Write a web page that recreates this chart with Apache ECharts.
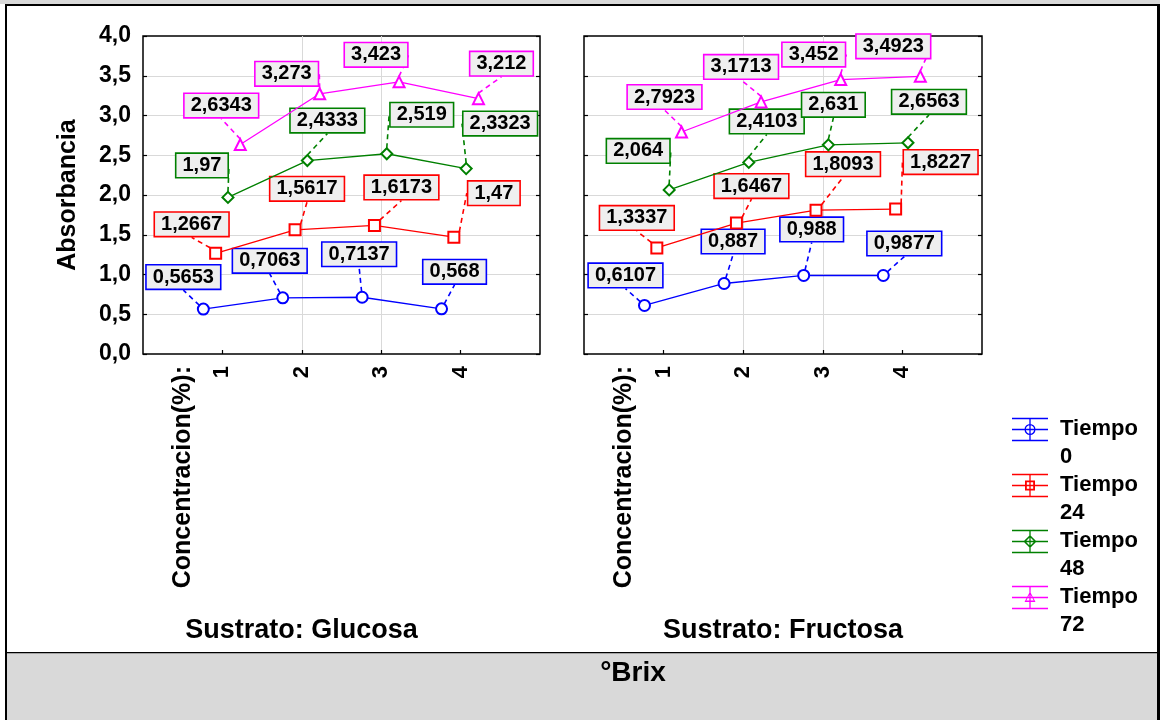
<!DOCTYPE html>
<html>
<head>
<meta charset="utf-8">
<script src="https://cdn.jsdelivr.net/npm/echarts@6/dist/echarts.min.js"></script>
<style>
  html, body { margin: 0; padding: 0; background: #ffffff; }
  #chart { width: 1160px; height: 720px; }
</style>
</head>
<body>
<div id="chart"></div>
<script>
// Categories and series
const concentraciones = [1, 2, 3, 4];
const tiempos = ['Tiempo 0', 'Tiempo 24', 'Tiempo 48', 'Tiempo 72'];
const sustratos = ['Sustrato: Glucosa', 'Sustrato: Fructosa'];
const yTicks = [0, 0.5, 1, 1.5, 2, 2.5, 3, 3.5, 4];

// Absorbancia, Sustrato: Glucosa
const glucosaT0  = [0.5653, 0.7063, 0.7137, 0.568];
const glucosaT24 = [1.2667, 1.5617, 1.6173, 1.47];
const glucosaT48 = [1.97, 2.4333, 2.519, 2.3323];
const glucosaT72 = [2.6343, 3.273, 3.423, 3.212];

// Absorbancia, Sustrato: Fructosa
const fructosaT0  = [0.6107, 0.887, 0.988, 0.9877];
const fructosaT24 = [1.3337, 1.6467, 1.8093, 1.8227];
const fructosaT48 = [2.064, 2.4103, 2.631, 2.6563];
const fructosaT72 = [2.7923, 3.1713, 3.452, 3.4923];

const valores = [
  [glucosaT0, glucosaT24, glucosaT48, glucosaT72],
  [fructosaT0, fructosaT24, fructosaT48, fructosaT72]
];

// Styling / layout
const colors = ['#0000ff', '#ff0000', '#008000', '#ff00ff'];
const symbols = ['emptyCircle', 'emptyRect', 'emptyDiamond', 'emptyTriangle'];
const dodge = [-0.24, -0.085, 0.07, 0.225];   // horizontal shift of each Tiempo within a category
// label box offsets (px) from each point, per panel, per Tiempo
const labelShift = [
  [
    [[-20, -32], [-13, -37], [-3, -43], [13, -37]],
    [[-24, -29], [12, -41], [27, -38], [40, -44]],
    [[-26, -32], [20, -40], [35, -39], [34, -45]],
    [[-19, -39], [-33, -20], [-23, -27], [23, -35]]
  ],
  [
    [[-19, -30], [9, -42], [8, -46], [21, -32]],
    [[-20, -30], [15, -37], [27, -46], [45, -47]],
    [[-31, -39], [18, -41], [5, -40], [21, -41]],
    [[-17, -35], [-20, -35], [-27, -25], [-27, -30]]
  ]
];

const FONT = "'Liberation Sans', Arial, Helvetica, sans-serif";
const comma = v => String(v).replace('.', ',');

// Legend icon: three horizontal bars, a vertical stem and a hollow marker
function rectPath(x, y, w, h) {
  return `M${x} ${y}L${x + w} ${y}L${x + w} ${y + h}L${x} ${y + h}Z`;
}
function polyPath(pts) {
  return 'M' + pts.map(p => p[0].toFixed(2) + ' ' + p[1].toFixed(2)).join('L') + 'Z';
}
function markerPath(kind, cx, cy, r, t) {
  if (kind === 0) {
    const ri = r - t;
    return `M${cx + r} ${cy}A${r} ${r} 0 1 1 ${cx - r} ${cy}A${r} ${r} 0 1 1 ${cx + r} ${cy}Z` +
           `M${cx + ri} ${cy}A${ri} ${ri} 0 1 0 ${cx - ri} ${cy}A${ri} ${ri} 0 1 0 ${cx + ri} ${cy}Z`;
  }
  let unit;
  if (kind === 1) unit = [[-1, -1], [1, -1], [1, 1], [-1, 1]];
  else if (kind === 2) unit = [[0, -1.2], [1.2, 0], [0, 1.2], [-1.2, 0]];
  else unit = [[0, -1.1], [1, 0.8], [-1, 0.8]];
  const outer = unit.map(p => [cx + p[0] * r, cy + p[1] * r]);
  const k = (r - t * 1.4) / r;
  const inner = unit.map(p => [cx + p[0] * r * k, cy + p[1] * r * k]).reverse();
  return polyPath(outer) + polyPath(inner);
}
function legendIcon(kind) {
  const w = 36, cx = 18, th = 1.3;
  let d = 'M0 0';
  [3.5, 14.5, 25.5].forEach(y => { d += rectPath(0, y - th / 2, w, th); });
  d += rectPath(cx - th / 2, 3.5, th, 22);
  d += markerPath(kind, cx, 14.5, kind === 1 ? 5 : 5.5, 1.3);
  d += 'M43 56';
  return 'path://' + d;
}

const grids = [
  { left: 143, top: 36, width: 397, height: 318 },
  { left: 584, top: 36, width: 398, height: 318 }
].map(g => Object.assign(g, { show: true, borderColor: '#000', borderWidth: 1.5, backgroundColor: 'transparent' }));

const xAxes = sustratos.map((name, p) => ({
  type: 'value', gridIndex: p, min: 0, max: 5, interval: 1,
  axisLine: { show: false },
  axisTick: { show: true, inside: true, length: 4, customValues: concentraciones, lineStyle: { color: '#000', width: 1.2 } },
  axisLabel: {
    customValues: [0.5].concat(concentraciones),
    rotate: 90, margin: 12,
    formatter: v => (v === 0.5 ? '{c|Concentracion(%):}' : String(v)),
    fontFamily: FONT, fontSize: 22, fontWeight: 'bold', color: '#000',
    rich: { c: { fontFamily: FONT, fontSize: 25, fontWeight: 'bold', color: '#000' } }
  },
  splitLine: { show: true, showMinLine: false, showMaxLine: false, lineStyle: { color: '#d9d9d9', width: 1 } },
  name: name, nameLocation: 'middle', nameGap: 263,
  nameTextStyle: {
    fontFamily: FONT, fontSize: 27, fontWeight: 'bold', color: '#000',
    padding: p === 0 ? [0, 80, 0, 0] : 0
  }
}));

const yBase = {
  type: 'value', min: yTicks[0], max: yTicks[yTicks.length - 1], interval: 0.5,
  axisLine: { show: false },
  axisTick: { show: true, inside: true, length: 4, lineStyle: { color: '#000', width: 1.2 } }
};
const yAxes = [
  Object.assign({}, yBase, {
    gridIndex: 0,
    axisLabel: { formatter: v => v.toFixed(1).replace('.', ','), fontFamily: FONT, fontSize: 23, fontWeight: 'bold', color: '#000', margin: 12 },
    splitLine: { show: true, showMinLine: false, showMaxLine: false, lineStyle: { color: '#d9d9d9', width: 1 } },
    name: 'Absorbancia', nameLocation: 'middle', nameGap: 62,
    nameTextStyle: { fontFamily: FONT, fontSize: 25, fontWeight: 'bold', color: '#000' }
  }),
  Object.assign({}, yBase, {
    gridIndex: 1,
    axisLabel: { show: false },
    splitLine: { show: true, showMinLine: false, showMaxLine: false, lineStyle: { color: '#d9d9d9', width: 1 } }
  }),
  Object.assign({}, yBase, { gridIndex: 0, position: 'right', axisLabel: { show: false }, splitLine: { show: false } }),
  Object.assign({}, yBase, { gridIndex: 1, position: 'right', axisLabel: { show: false }, splitLine: { show: false } })
];

const series = [];
valores.forEach((panel, p) => {
  panel.forEach((vals, s) => {
    series.push({
      type: 'line',
      name: tiempos[s],
      xAxisIndex: p,
      yAxisIndex: p,
      data: concentraciones.map((c, i) => [c + dodge[s], vals[i]]),
      symbol: symbols[s],
      symbolSize: 11,
      color: colors[s],
      lineStyle: { color: colors[s], width: 1.3 },
      itemStyle: { color: colors[s], borderColor: colors[s], borderWidth: 1.3 },
      label: {
        show: true, position: 'inside',
        formatter: prm => comma(prm.value[1]),
        fontFamily: FONT, fontSize: 20, fontWeight: 'bold', color: '#000',
        backgroundColor: '#efefef', borderColor: colors[s], borderWidth: 1.6,
        padding: [1, 6, 1, 6], lineHeight: 21
      },
      labelLine: { show: true, lineStyle: { color: colors[s], width: 1.6, type: [5, 4] } },
      labelLayout: prm => ({ dx: labelShift[p][s][prm.dataIndex][0], dy: labelShift[p][s][prm.dataIndex][1] }),
      emphasis: { disabled: true },
      z: 3 + s
    });
  });
});

const chart = echarts.init(document.getElementById('chart'), null, { renderer: 'canvas' });
chart.setOption({
  animation: false,
  backgroundColor: '#ffffff',
  grid: grids,
  xAxis: xAxes,
  yAxis: yAxes,
  legend: {
    orient: 'vertical', left: 1012, top: 415, padding: 0,
    itemWidth: 43, itemHeight: 56, itemGap: 0,
    selectedMode: false,
    formatter: n => n.replace(' ', '\n'),
    textStyle: { fontFamily: FONT, fontSize: 22, fontWeight: 'bold', color: '#000', lineHeight: 28 },
    data: tiempos.map((n, i) => ({ name: n, icon: legendIcon(i), itemStyle: { color: colors[i], borderWidth: 0 } }))
  },
  graphic: [
    { type: 'rect', shape: { x: 0, y: 0, width: 1160, height: 4 }, style: { fill: '#d9d9d9' }, silent: true },
    { type: 'rect', shape: { x: 5, y: 4, width: 1155, height: 2 }, style: { fill: '#000' }, silent: true },
    { type: 'rect', shape: { x: 5, y: 4, width: 2, height: 716 }, style: { fill: '#000' }, silent: true },
    { type: 'rect', shape: { x: 1157, y: 4, width: 3, height: 716 }, style: { fill: '#000' }, silent: true },
    { type: 'rect', shape: { x: 7, y: 652, width: 1150, height: 68 }, style: { fill: '#d9d9d9' }, silent: true },
    { type: 'rect', shape: { x: 7, y: 652, width: 1150, height: 1.2 }, style: { fill: '#000' }, silent: true },
    {
      type: 'text', x: 633, y: 673,
      style: { text: '°Brix', fontFamily: FONT, fontSize: 28, fontWeight: 'bold', fill: '#000', align: 'center', verticalAlign: 'middle' },
      silent: true
    }
  ],
  series: series
});
</script>
</body>
</html>
